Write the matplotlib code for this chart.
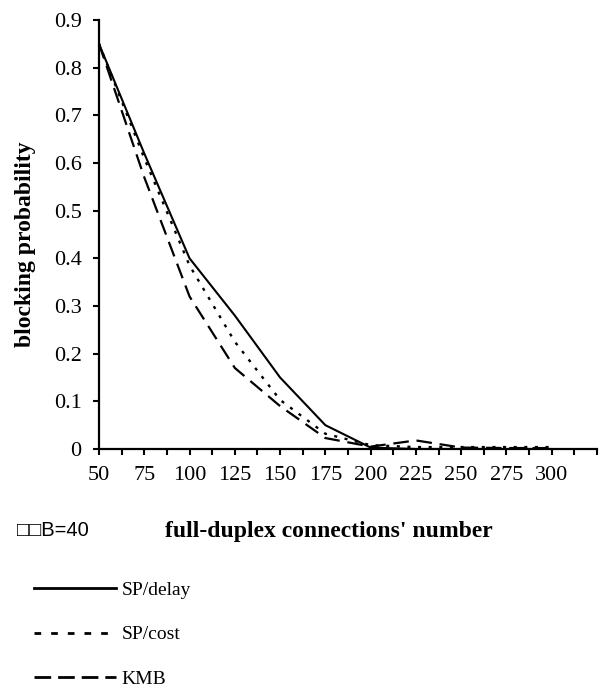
import numpy as np
import matplotlib.pyplot as plt
from matplotlib.lines import Line2D

# connections' number (x categories)
connections = [50, 75, 100, 125, 150, 175, 200, 225, 250, 275, 300]

sp_delay = [0.85, 0.62, 0.40, 0.28, 0.15, 0.05, 0.003, 0.0, 0.0, 0.0, 0.0]
sp_cost = [0.85, 0.61, 0.385, 0.225, 0.103, 0.032, 0.008, 0.004, 0.004, 0.004, 0.004]
kmb = [0.85, 0.57, 0.32, 0.17, 0.09, 0.023, 0.005, 0.018, 0.003, 0.002, 0.002]

y_ticks = [0, 0.1, 0.2, 0.3, 0.4, 0.5, 0.6, 0.7, 0.8, 0.9]
y_tick_labels = ['0', '0.1', '0.2', '0.3', '0.4', '0.5', '0.6', '0.7', '0.8', '0.9']

serif = ['Liberation Serif', 'DejaVu Serif']
plt.rcParams['font.family'] = serif

W, H = 603, 689
fig = plt.figure(figsize=(W / 100, H / 100), dpi=100)
ax = fig.add_axes([99 / W, 1 - 449 / H, (597 - 99) / W, (449 - 20) / H])

ax.plot(connections, sp_delay, color='black', lw=1.5, solid_joinstyle='miter')
ax.plot(connections, sp_cost, color='black', lw=1.7, dashes=(1.3, 3.2))
ax.plot(connections, kmb, color='black', lw=1.6, dashes=(7, 3.5))

ax.set_xlim(50, 325)
ax.set_ylim(0, 0.9)
xt = np.arange(50, 325.1, 12.5)
ax.set_xticks(xt)
ax.set_xticklabels([str(int(v)) if (v - 50) % 25 == 0 and v <= 300 else '' for v in xt])
ax.set_yticks(y_ticks)
ax.set_yticklabels(y_tick_labels)
ax.tick_params(direction='out', length=4.5, width=1.5, labelsize=16, colors='black')
ax.tick_params(axis='x', pad=8)
ax.tick_params(axis='y', pad=8)

for side in ['top', 'right']:
    ax.spines[side].set_visible(False)
for side in ['left', 'bottom']:
    ax.spines[side].set_linewidth(1.6)

fig.text(26 / W, 1 - 244 / H, 'blocking probability', rotation=90,
         ha='center', va='center', fontsize=17, fontweight='bold')
fig.text(329 / W, 1 - 531 / H, "full-duplex connections' number",
         ha='center', va='center', fontsize=17, fontweight='bold')
fig.text(17 / W, 1 - 531 / H, '\u25a1\u25a1B=40', ha='left', va='center',
         fontsize=14.5, family=['Liberation Sans', 'DejaVu Sans'])

handles = [
    Line2D([], [], color='black', lw=2),
    Line2D([], [], color='black', lw=2, dashes=(2.4, 3.6)),
    Line2D([], [], color='black', lw=2, dashes=(6, 2.5)),
]
fig.legend(handles, ['SP/delay', 'SP/cost', 'KMB'], loc='upper left',
           bbox_to_anchor=(34 / W, 1 - 581 / H), frameon=False,
           borderpad=0, borderaxespad=0, handlelength=4.2, handletextpad=0.3,
           labelspacing=1.4, fontsize=14)

fig.savefig('out.png', dpi=100)
